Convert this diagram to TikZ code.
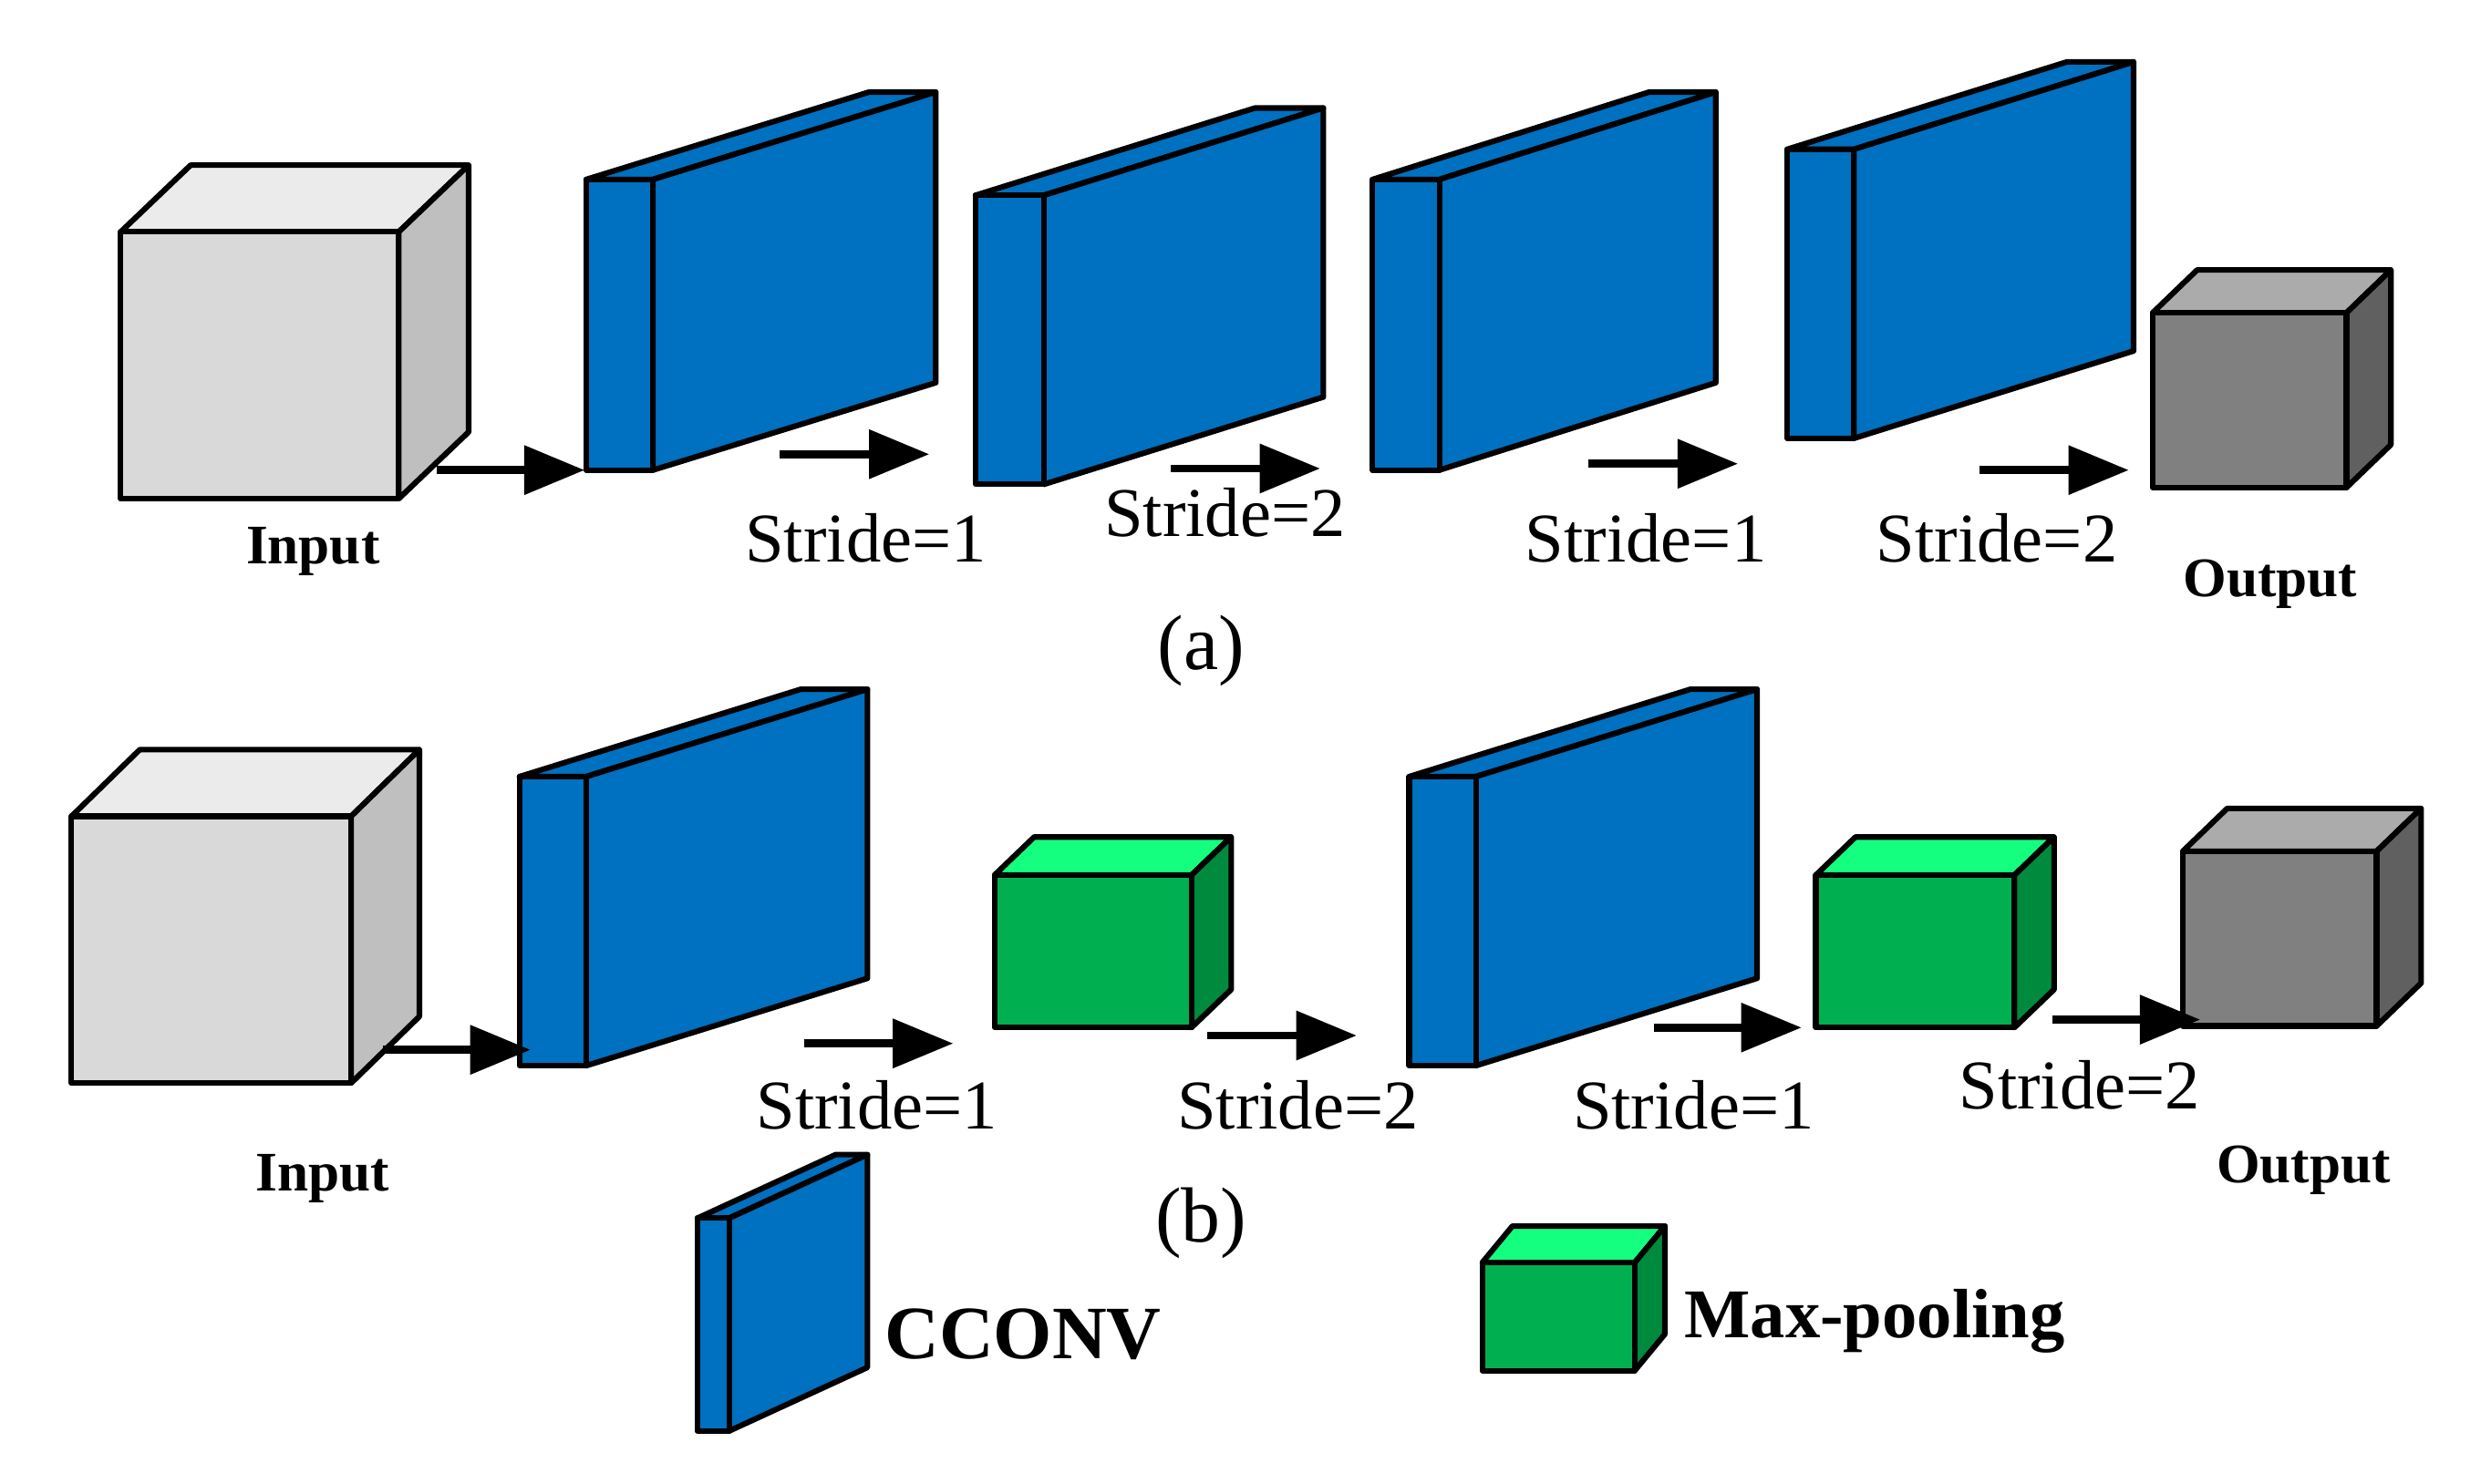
\documentclass[tikz,border=0pt]{standalone}
\usepackage{fontspec}
\setmainfont{Liberation Serif}
\usetikzlibrary{arrows.meta}
\definecolor{cblue}{HTML}{0070C0}
\definecolor{gfront}{HTML}{D9D9D9}\definecolor{gtop}{HTML}{EBEBEB}\definecolor{gside}{HTML}{BFBFBF}
\definecolor{dfront}{HTML}{808080}\definecolor{dtop}{HTML}{ABABAB}\definecolor{dside}{HTML}{606060}
\definecolor{nfront}{HTML}{00B050}\definecolor{ntop}{HTML}{14FF80}\definecolor{nside}{HTML}{008A3E}
\newcommand\boxd[9]{%
\begin{scope}[shift={(#1,#2)}]
\draw[fill=#8] (0,0) -- (#5,#6) -- ++(#3,0) -- (#3,0) -- cycle;
\draw[fill=#9] (#3,0) -- ++(#5,#6) -- ++(0,#4) -- (#3,#4) -- cycle;
\draw[fill=#7] (0,0) rectangle (#3,#4);
\end{scope}}
\tikzset{every path/.style={line width=1pt,line join=round},
 arr/.style={line width=0.05cm,-{Triangle[length=0.38cm,width=0.3cm]}},
 st/.style={font=\fontsize{12.5}{15}\selectfont},
 lb/.style={font=\fontsize{10}{12}\selectfont\bfseries},
 capt/.style={font=\fontsize{14}{16}\selectfont}}
\begin{document}
\begin{tikzpicture}[x=0.01cm,y=-0.01cm]
\useasboundingbox (0,0) rectangle (1568,934);
% (a)
\boxd{76}{146}{175}{168}{44}{-42}{gfront}{gtop}{gside}
\boxd{369}{113}{42}{183}{178}{-55}{cblue}{cblue}{cblue}
\boxd{614}{123}{43}{182}{176}{-55}{cblue}{cblue}{cblue}
\boxd{864}{113}{42}{183}{174}{-55}{cblue}{cblue}{cblue}
\boxd{1125}{94}{42}{182}{176}{-55}{cblue}{cblue}{cblue}
\boxd{1355}{197}{122}{110}{28}{-27}{dfront}{dtop}{dside}
\foreach \n/\a/\b/\y in {a1/275/368/296,a2/491/585/286,a3/737/831/295,a4/1000/1094/292,a5/1246/1340/296}{
 \coordinate (\n s) at (\a,\y); \coordinate (\n e) at (\b,\y);
 \draw[arr] (\n s) -- (\n e);}
\node[lb] (ina) at (197,347) {Input};
\node[st] (sa1) at (545,339) {Stride=1};
\node[st] (sa2) at (771,323) {Stride=2};
\node[st] (sa3) at (1036,339) {Stride=1};
\node[st] (sa4) at (1257,339) {Stride=2};
\node[lb] (outa) at (1429,368) {Output};
\node[capt] (capa) at (756,410) {(a)};
% (b)
\boxd{45}{514}{176}{168}{43}{-42}{gfront}{gtop}{gside}
\boxd{327}{489}{42}{182}{177}{-55}{cblue}{cblue}{cblue}
\boxd{626}{551}{124}{96}{25}{-24}{nfront}{ntop}{nside}
\boxd{887}{489}{42}{182}{177}{-55}{cblue}{cblue}{cblue}
\boxd{1143}{551}{125}{96}{25}{-24}{nfront}{ntop}{nside}
\boxd{1374}{536}{122}{110}{28}{-27}{dfront}{dtop}{dside}
\foreach \n/\a/\b/\y in {b1/241/334/661,b2/506/600/657,b3/760/854/652,b4/1041/1134/647,b5/1292/1385/642}{
 \coordinate (\n s) at (\a,\y); \coordinate (\n e) at (\b,\y);
 \draw[arr] (\n s) -- (\n e);}
\node[lb] (inb) at (203,742) {Input};
\node[st] (sb1) at (552,696) {Stride=1};
\node[st] (sb2) at (817,696) {Stride=2};
\node[st] (sb3) at (1066,696) {Stride=1};
\node[st] (sb4) at (1309,683) {Stride=2};
\node[lb] (outb) at (1450,737) {Output};
\node[capt] (capb) at (756,770) {(b)};
% legend
\boxd{439}{767}{20}{134}{87}{-40}{cblue}{cblue}{cblue}
\boxd{933}{795}{96}{68}{19}{-23}{nfront}{ntop}{nside}
\node[font=\fontsize{13.5}{16}\selectfont\bfseries] (lc) at (644,840) {CCONV};
\node[font=\fontsize{12.5}{15}\selectfont\bfseries] (lm) at (1180,832) {Max-pooling};
\end{tikzpicture}
\end{document}
